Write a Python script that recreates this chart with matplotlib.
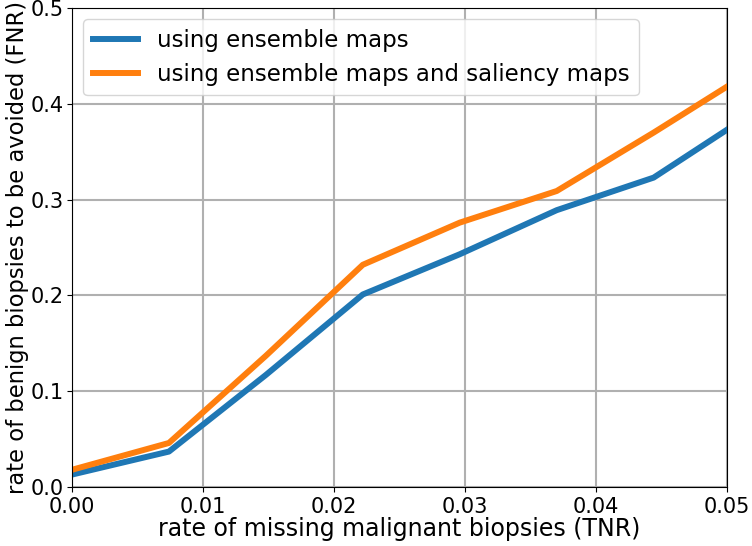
import matplotlib
matplotlib.use("Agg")
import matplotlib.pyplot as plt

x = [0.0, 0.0074, 0.0148, 0.0222, 0.0296, 0.037, 0.0444, 0.05]
ensemble = [0.013, 0.037, 0.117, 0.201, 0.243, 0.289, 0.323, 0.373]
ensemble_saliency = [0.018, 0.046, 0.137, 0.232, 0.276, 0.309, 0.370, 0.418]

plt.rcParams["xtick.labelsize"] = 15
plt.rcParams["ytick.labelsize"] = 15

fig = plt.figure(figsize=(7.52, 5.46), dpi=100)
ax = fig.add_axes([0.0957, 0.108, 0.8711, 0.8773])
ax.plot(x, ensemble, linewidth=4.3, label="using ensemble maps")
ax.plot(x, ensemble_saliency, linewidth=4.3,
        label="using ensemble maps and saliency maps")
ax.set_xlim(0, 0.05)
ax.set_ylim(0, 0.5)
ax.set_xticks([0.0, 0.01, 0.02, 0.03, 0.04, 0.05])
ax.set_yticks([0.0, 0.1, 0.2, 0.3, 0.4, 0.5])
ax.tick_params(axis="y", pad=2.5)
ax.grid(True, color="#b0b0b0", linewidth=1.5)
ax.set_xlabel("rate of missing malignant biopsies (TNR)", fontsize=17, labelpad=0)
ax.set_ylabel("rate of benign biopsies to be avoided (FNR)", fontsize=16.3, labelpad=1)
ax.legend(loc="upper left", fontsize=16.5)
fig.savefig("out.png", dpi=100)
